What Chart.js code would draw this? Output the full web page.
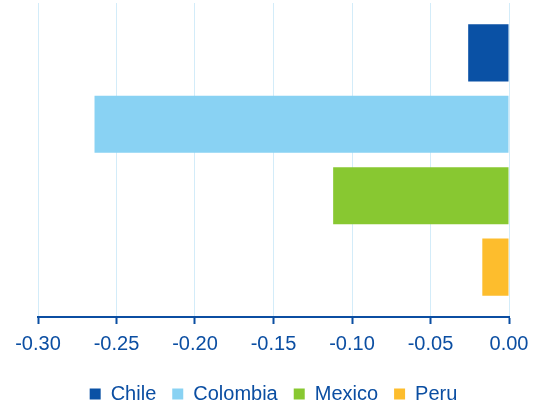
<!DOCTYPE html>
<html>
<head>
<meta charset="utf-8">
<script src="https://cdn.jsdelivr.net/npm/chart.js@4"></script>
<style>
  html, body { margin: 0; padding: 0; background: #fff; }
  #wrap { width: 542px; height: 409px; }
</style>
</head>
<body>
<div id="wrap"><canvas id="chart"></canvas></div>
<script>
// データ
const countries = ["Chile", "Colombia", "Mexico", "Peru"];
const values = [-0.026, -0.264, -0.112, -0.017];
const barColors = ["#0a51a5", "#89d2f3", "#88c831", "#fdbd2d"];
const xTicks = [-0.30, -0.25, -0.20, -0.15, -0.10, -0.05, 0.00];

const AXIS_BLUE = "#0b4ea2";
const GRID_BLUE = "#d3ecf9";

Chart.defaults.font.family = "'Liberation Sans', Arial, sans-serif";

// 国ごとにデータセットを作る
const datasets = countries.map((name, i) => ({
  label: name,
  data: [values[i]],
  backgroundColor: barColors[i],
  borderWidth: 0,
  categoryPercentage: 0.91,
  barPercentage: 0.8
}));

new Chart(document.getElementById("chart"), {
  type: "bar",
  data: { labels: [""], datasets },
  options: {
    indexAxis: "y",
    responsive: true,
    maintainAspectRatio: false,
    animation: false,
    layout: { padding: { left: 38, right: 33, top: 3, bottom: -5 } },
    plugins: {
      tooltip: { enabled: false },
      legend: {
        position: "bottom",
        labels: {
          boxWidth: 11,
          boxHeight: 11,
          padding: 16,
          color: AXIS_BLUE,
          font: { size: 20 }
        }
      }
    },
    scales: {
      x: {
        min: -0.30,
        max: 0,
        afterBuildTicks: (axis) => { axis.ticks = xTicks.map(v => ({ value: v })); },
        afterFit: (axis) => { axis.height += 4; },   // 凡例との間隔
        ticks: {
          color: AXIS_BLUE,
          font: { size: 20 },
          padding: 8,
          callback: (v) => Number(v).toFixed(2)
        },
        grid: {
          color: GRID_BLUE,
          lineWidth: 1,
          drawTicks: true,
          tickLength: 7,
          tickColor: AXIS_BLUE,
          tickWidth: 2
        },
        border: { color: AXIS_BLUE, width: 2 }
      },
      y: {
        display: false
      }
    }
  }
});
</script>
</body>
</html>
